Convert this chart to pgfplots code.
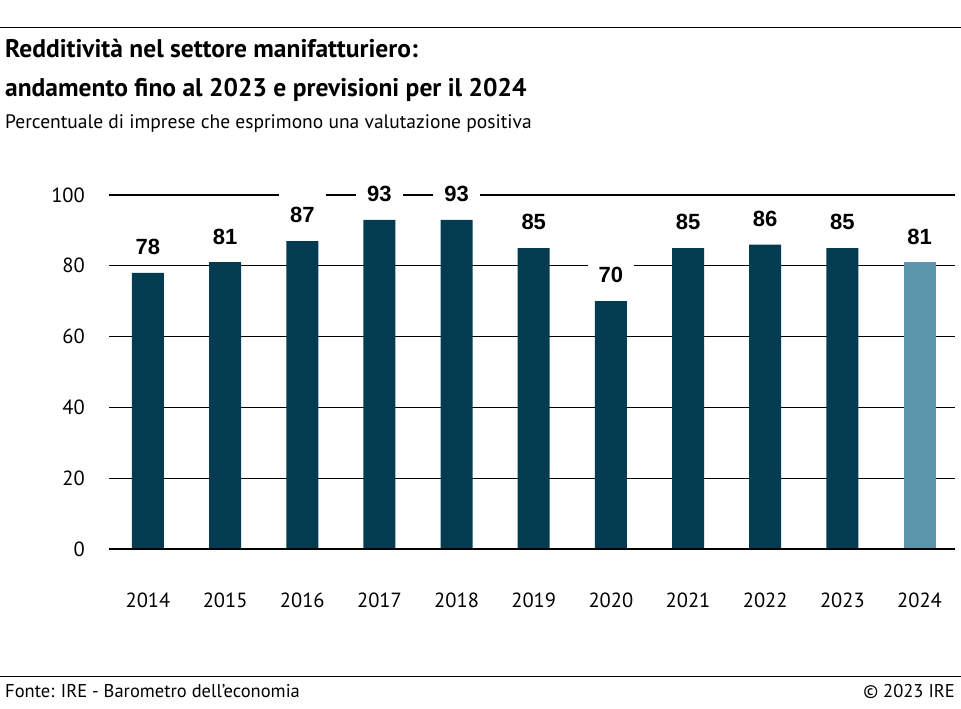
\documentclass[border=0pt]{standalone}
\usepackage{pgfplots}
\pgfplotsset{compat=1.18}
\usepackage{fontspec}
\setmainfont{PT Sans}
\newfontfamily\labfont{Liberation Sans}
\definecolor{darkbar}{HTML}{033C50}
\definecolor{lightbar}{HTML}{5A97AC}
\begin{document}
\begin{tikzpicture}[x=1bp,y=1bp]
\path[use as bounding box] (0,0) rectangle (961,709);
\draw[line width=1bp] (0,681) -- (961,681);
\node[anchor=base west, inner sep=0pt, font=\fontsize{25.5bp}{28bp}\selectfont\bfseries] at (5,651) {Redditività nel settore manifatturiero:};
\node[anchor=base west, inner sep=0pt, font=\fontsize{25.5bp}{28bp}\selectfont\bfseries] at (5,612) {andamento fino al 2023 e previsioni per il 2024};
\node[anchor=base west, inner sep=0pt, font=\fontsize{19.5bp}{22bp}\selectfont] at (5,580) {Percentuale di imprese che esprimono una valutazione positiva};
\draw[line width=1bp] (0,32) -- (961,32);
\node[anchor=base west, inner sep=0pt, font=\fontsize{18.5bp}{20bp}\selectfont] at (5,11) {Fonte: IRE - Barometro dell'economia};
\node[anchor=base east, inner sep=0pt, font=\fontsize{18.5bp}{20bp}\selectfont] at (955,11) {© 2023 IRE};
\begin{axis}[
  at={(109bp,160bp)}, anchor=south west,
  scale only axis, width=846bp, height=354bp,
  xmin=-0.505, xmax=10.46, ymin=0, ymax=100,
  clip=false,
  axis line style={draw=none},
  major tick length=0pt,
  ytick={0,20,40,60,80,100},
  ymajorgrids, grid style={black, line width=1.2bp},
  xtick={0,...,10},
  xticklabels={2014,2015,2016,2017,2018,2019,2020,2021,2022,2023,2024},
  /pgf/number format/assume math mode=true,
  ticklabel style={font=\fontsize{20.5bp}{24bp}\selectfont},
  yticklabel style={inner sep=0pt, xshift=-24bp},
  xticklabel style={anchor=base, inner sep=0pt, yshift=-59bp},
  ybar, bar width=32bp, bar shift=0pt,
  nodes near coords,
  every node near coord/.append style={font=\labfont\fontsize{22bp}{26bp}\selectfont\bfseries, text=black, fill=white, inner xsep=11bp, inner ysep=0pt, text height=29.5bp, text depth=6bp, yshift=12bp},
]
\addplot[draw=none, fill=darkbar] coordinates {(0,78) (1,81) (2,87) (3,93) (4,93) (5,85) (6,70) (7,85) (8,86) (9,85)};
\addplot[draw=none, fill=lightbar] coordinates {(10,81)};
\draw[black, line width=2.5bp] (rel axis cs:0,0) -- (rel axis cs:1,0);
\end{axis}
\end{tikzpicture}
\end{document}
